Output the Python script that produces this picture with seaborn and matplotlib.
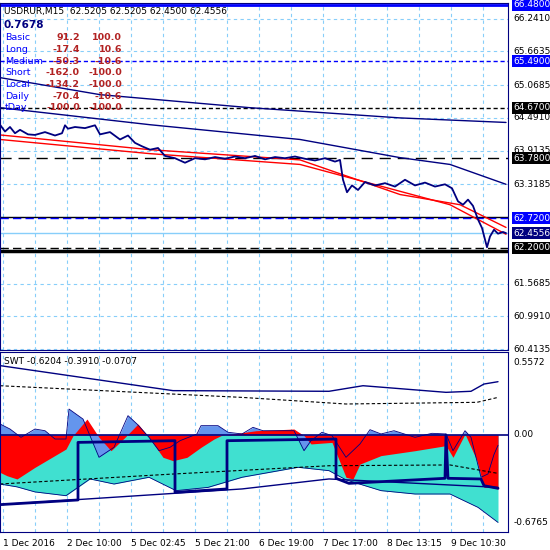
import numpy as np
import seaborn as sns
import matplotlib
matplotlib.use('Agg')
import matplotlib.pyplot as plt

# ---- price panel data (x = bar index 0..505)
price_x = [0, 5, 10, 15, 20, 28, 35, 45, 55, 62, 65, 68, 75, 85, 95, 100, 110, 120, 128, 135, 142, 150, 158, 165,
           175, 185, 195, 205, 215, 225, 235, 245, 255, 265, 275, 285, 295, 305, 315, 325, 335, 340, 343, 347, 352,
           358, 365, 375, 385, 395, 405, 415, 425, 435, 445, 452, 458, 463, 468, 473, 478, 482, 487, 490, 494, 498, 503, 506]
price_y = [64.37, 64.25, 64.33, 64.22, 64.28, 64.20, 64.19, 64.24, 64.18, 64.22, 64.36, 64.30, 64.33, 64.31, 64.36, 64.20,
           64.24, 64.11, 64.18, 64.05, 63.99, 63.93, 63.96, 63.82, 63.78, 63.70, 63.78, 63.76, 63.80, 63.77, 63.81, 63.78,
           63.82, 63.76, 63.80, 63.78, 63.81, 63.77, 63.74, 63.78, 63.72, 63.75, 63.40, 63.18, 63.30, 63.22, 63.36, 63.30,
           63.34, 63.28, 63.40, 63.30, 63.35, 63.28, 63.32, 63.25, 63.02, 62.96, 63.05, 62.94, 62.70, 62.55, 62.21, 62.40,
           62.52, 62.45, 62.48, 62.46]
ma_red1_x = [0, 150, 300, 400, 460, 506]
ma_red1_y = [64.19, 63.93, 63.75, 63.14, 62.96, 62.56]
ma_red2_x = [0, 150, 300, 450, 506]
ma_red2_y = [64.11, 63.86, 63.67, 62.96, 62.44]
ma_blue1_x = [0, 100, 250, 400, 506]
ma_blue1_y = [65.20, 64.90, 64.67, 64.49, 64.41]
ma_blue2_x = [0, 150, 300, 400, 450, 506]
ma_blue2_y = [64.67, 64.37, 64.11, 63.79, 63.67, 63.32]
price_ticks = [66.2410, 65.6635, 65.0685, 64.4910, 63.9135, 63.3185, 62.7410, 62.1635, 61.5685, 60.9910, 60.4135]
rows = ['Basic', 'Long', 'Medium', 'Short', 'Local', 'Daily', 'tDay']
col1 = ['91.2', '-17.4', '-50.3', '-162.0', '-134.2', '-70.4', '-100.0']
col2 = ['100.0', '10.6', '-10.6', '-100.0', '-100.0', '-10.6', '-100.0']

# ---- SWT panel data
blue_x = [0, 10, 21, 35, 45, 55, 66, 69, 83, 99, 114, 128, 137, 149, 159, 170, 180, 197, 201, 218, 228, 242, 253, 263,
          277, 294, 304, 311, 322, 332, 346, 360, 370, 381, 394, 415, 432, 446, 453, 465, 471, 481, 488, 494, 498]
blue_v = [0.085, 0.046, -0.018, 0.046, 0.033, -0.031, -0.031, 0.20, 0.123, -0.172, -0.095, 0.149, 0.085, -0.018, -0.121,
          -0.095, -0.044, 0.008, 0.072, 0.072, 0.021, 0.008, 0.059, 0.033, 0.033, 0.033, -0.121, -0.044, 0.021, -0.005,
          -0.172, -0.069, 0.041, 0.008, 0.033, -0.018, 0.013, 0.008, -0.121, 0.033, -0.018, -0.326, -0.30, -0.15, -0.08]
red_x = [0, 7, 17, 35, 66, 73, 87, 99, 111, 125, 138, 149, 163, 173, 187, 201, 214, 221, 256, 294, 304, 311, 332, 346,
         353, 360, 381, 415, 446, 453, 465, 477, 484, 488, 498]
red_v = [-0.288, -0.314, -0.339, -0.249, -0.108, -0.005, 0.123, -0.018, -0.121, -0.018, 0.085, -0.018, -0.172, -0.198,
         -0.172, -0.095, -0.031, -0.005, 0.033, 0.046, -0.005, -0.069, -0.057, -0.326, -0.339, -0.224, -0.159, -0.121,
         -0.082, -0.172, 0.008, -0.198, -0.404, -0.40, -0.416]
teal_x = [0, 17, 35, 66, 90, 114, 149, 176, 208, 242, 298, 329, 346, 381, 415, 450, 478, 498]
teal_v = [-0.378, -0.40, -0.439, -0.468, -0.339, -0.378, -0.326, -0.429, -0.404, -0.326, -0.249, -0.275, -0.346,
          -0.429, -0.455, -0.455, -0.558, -0.674]
step_x = [0, 78, 78, 175, 175, 227, 227, 336, 336, 349, 445, 446, 448, 481, 484, 498]
step_v = [-0.537, -0.501, -0.057, -0.044, -0.442, -0.416, -0.044, -0.031, -0.334, -0.373, -0.334, 0.0, -0.334, -0.339,
          -0.391, -0.411]
up_x = [0, 173, 329, 363, 446, 471, 484, 498]
up_v = [0.535, 0.342, 0.337, 0.380, 0.329, 0.337, 0.393, 0.411]
upd_x = [0, 242, 346, 477, 498]
upd_v = [0.380, 0.290, 0.239, 0.252, 0.290]
lod_x = [0, 173, 329, 450, 498]
lod_v = [-0.378, -0.301, -0.237, -0.231, -0.296]
lo_x = [0, 242, 329, 498]
lo_v = [-0.537, -0.416, -0.339, -0.404]
date_labels = ['1 Dec 2016', '2 Dec 10:00', '5 Dec 02:45', '5 Dec 21:00', '6 Dec 19:00', '7 Dec 17:00',
               '8 Dec 13:15', '9 Dec 10:30']

sns.set_style('white')
plt.rcParams['font.family'] = ['DejaVu Sans']
navy = '#000080'
fig = plt.figure(figsize=(5.5, 5.5), dpi=100)
W = 508 / 550.
ax = fig.add_axes([0, 1 - 350 / 550., W, 347 / 550.])
ax2 = fig.add_axes([0, 1 - 532 / 550., W, 180 / 550.])
xmax = 508
grid_x = [3 + 32 * k for k in range(16)]

for a in (ax, ax2):
    a.set_xlim(0, xmax)
    for s in a.spines.values():
        s.set_color(navy)
    a.set_xticks([])
    a.set_yticks([])
    for gx in grid_x:
        a.axvline(gx, color='#87cefa', ls=(0, (3, 3)), lw=0.8, zorder=0)

# price panel
ax.set_ylim(60.40, 66.515)
for t in price_ticks:
    ax.axhline(t, color='#87cefa', ls=(0, (3, 3)), lw=0.8, zorder=0)
ax.axhline(66.48, color='blue', lw=2)
ax.axhline(65.49, color='blue', ls=(0, (3, 2)), lw=1)
ax.axhline(64.67, color='black', ls=(0, (3, 2)), lw=1)
ax.axhline(63.78, color='black', ls=(0, (8, 5)), lw=1)
ax.axhline(62.75, color='black', lw=1)
ax.axhline(62.72, color='blue', ls=(0, (6, 3)), lw=1)
ax.axhline(62.4556, color='#87cefa', lw=1)
ax.axhline(62.20, color='black', ls=(0, (6, 3)), lw=1)
ax.axhline(62.15, color='black', lw=2.5)
sns.lineplot(x=ma_blue1_x, y=ma_blue1_y, ax=ax, color=navy, lw=1)
sns.lineplot(x=ma_blue2_x, y=ma_blue2_y, ax=ax, color=navy, lw=1)
sns.lineplot(x=ma_red1_x, y=ma_red1_y, ax=ax, color='red', lw=1)
sns.lineplot(x=ma_red2_x, y=ma_red2_y, ax=ax, color='red', lw=1)
sns.lineplot(x=price_x, y=price_y, ax=ax, color=navy, lw=1.3)

fs = 6.5
ax.text(4, 66.45, 'USDRUR,M15  62.5205 62.5205 62.4500 62.4556', fontsize=fs, color='black', va='top')
ax.text(4, 66.22, '0.7678', fontsize=7.5, color=navy, weight='bold', va='top')
for i, (r, a1, a2) in enumerate(zip(rows, col1, col2)):
    yy = 65.98 - i * 0.205
    ax.text(5, yy, r, fontsize=6.8, color='blue', va='top')
    ax.text(80, yy, a1, fontsize=6.8, color='#b22222', weight='bold', va='top', ha='right')
    ax.text(122, yy, a2, fontsize=6.8, color='#b22222', weight='bold', va='top', ha='right')

# right axis labels
def plabel(a, y, txt, fc=None, fg='black'):
    kw = dict(fontsize=fs, color=fg, va='center', ha='left', transform=a.get_yaxis_transform(), clip_on=False)
    if fc:
        kw['bbox'] = dict(boxstyle='square,pad=0.15', fc=fc, ec='none')
        kw['zorder'] = 10
    a.text(1.01, y, txt, **kw)

for t in price_ticks:
    if t not in (62.7410, 62.1635):
        plabel(ax, t, '%.4f' % t)
plabel(ax, 66.48, '66.4800', 'blue', 'white')
plabel(ax, 65.49, '65.4900', 'blue', 'white')
plabel(ax, 64.67, '64.6700', 'black', 'white')
plabel(ax, 63.78, '63.7800', 'black', 'white')
plabel(ax, 62.72, '62.7200', 'blue', 'white')
plabel(ax, 62.4556, '62.4556', navy, 'white')
plabel(ax, 62.20, '62.2000', 'black', 'white')

# SWT panel
ax2.set_ylim(-0.748, 0.64)
ax2.fill_between(teal_x, 0, teal_v, color='#40e0d0', lw=0)
ax2.fill_between(blue_x, 0, blue_v, color='#6495ed', lw=0)
ax2.fill_between(red_x, 0, red_v, color='red', lw=0)
sns.lineplot(x=blue_x, y=blue_v, ax=ax2, color=navy, lw=0.6)
sns.lineplot(x=teal_x, y=teal_v, ax=ax2, color=navy, lw=0.6)
ax2.axhline(0, color=navy, lw=1.2)
sns.lineplot(x=up_x, y=up_v, ax=ax2, color=navy, lw=1, sort=False)
sns.lineplot(x=lo_x, y=lo_v, ax=ax2, color=navy, lw=1, sort=False)
ax2.plot(upd_x, upd_v, color='black', ls=(0, (3, 2)), lw=0.8)
ax2.plot(lod_x, lod_v, color='black', ls=(0, (3, 2)), lw=0.8)
ax2.plot(step_x, step_v, color=navy, lw=2)
ax2.text(4, 0.60, 'SWT -0.6204 -0.3910 -0.0707', fontsize=fs, color='black', va='top')
plabel(ax2, 0.5572, '0.5572')
plabel(ax2, 0.0, '0.00')
plabel(ax2, -0.6765, '-0.6765')
for i, lab in enumerate(date_labels):
    ax2.text(3 + 64 * i, -0.80, lab, fontsize=fs, color='black', va='top', ha='left', clip_on=False)

fig.savefig('out.png', dpi=100, facecolor='white')
